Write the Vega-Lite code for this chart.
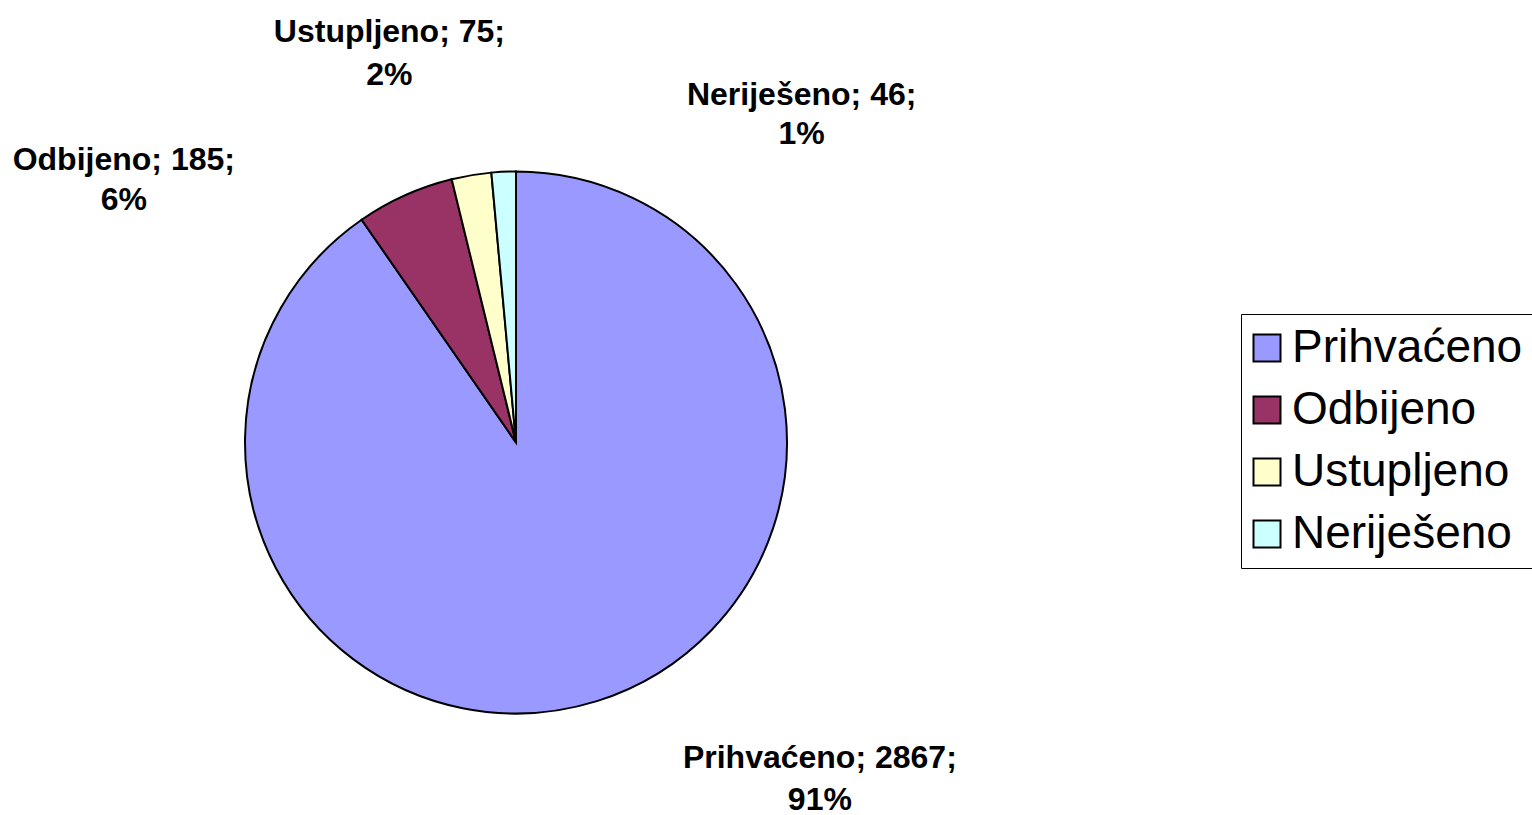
{
  "$schema": "https://vega.github.io/schema/vega-lite/v6.json",
  "width": 1032,
  "height": 745,
  "padding": {"top": 12, "left": 0, "right": 0, "bottom": 0},
  "autosize": {"type": "pad"},
  "background": "white",
  "config": {"view": {"stroke": null}, "font": "Liberation Sans"},
  "data": {
    "values": [
      {"kategorija": "Prihvaćeno", "broj": 2867, "postotak": "91%", "redoslijed": 1},
      {"kategorija": "Odbijeno", "broj": 185, "postotak": "6%", "redoslijed": 2},
      {"kategorija": "Ustupljeno", "broj": 75, "postotak": "2%", "redoslijed": 3},
      {"kategorija": "Neriješeno", "broj": 46, "postotak": "1%", "redoslijed": 4}
    ]
  },
  "encoding": {
    "theta": {"field": "broj", "type": "quantitative", "stack": true},
    "order": {"field": "redoslijed", "type": "quantitative"}
  },
  "layer": [
    {
      "mark": {"type": "arc", "outerRadius": 271, "stroke": "black", "strokeWidth": 2},
      "encoding": {
        "color": {
          "field": "kategorija",
          "type": "nominal",
          "sort": ["Prihvaćeno", "Odbijeno", "Ustupljeno", "Neriješeno"],
          "scale": {
            "domain": ["Prihvaćeno", "Odbijeno", "Ustupljeno", "Neriješeno"],
            "range": ["#9999FF", "#993366", "#FFFFCC", "#CCFFFF"]
          },
          "legend": {
            "title": null,
            "orient": "none",
            "legendX": 1241,
            "legendY": 244,
            "strokeColor": "black",
            "padding": 11,
            "symbolType": "square",
            "symbolSize": 729,
            "symbolOffset": -8,
            "symbolStrokeColor": "black",
            "symbolStrokeWidth": 2,
            "symbolOpacity": 1,
            "labelFont": "Liberation Sans",
            "labelFontSize": 46,
            "labelColor": "black",
            "labelOffset": 2,
            "labelLimit": 400,
            "rowPadding": 16
          }
        }
      }
    },
    {
      "mark": {"type": "text", "radius": 271, "dx": 223, "dy": 57, "font": "Liberation Sans", "fontWeight": "bold", "fontSize": 32, "lineHeight": 42, "baseline": "middle", "align": "center", "color": "black"},
      "encoding": {"text": {"condition": {"test": "datum.kategorija === 'Prihvaćeno'", "value": ["Prihvaćeno; 2867;", "91%"]}, "value": ""}}
    },
    {
      "mark": {"type": "text", "radius": 271, "dx": -281, "dy": -35, "font": "Liberation Sans", "fontWeight": "bold", "fontSize": 32, "lineHeight": 40, "baseline": "middle", "align": "center", "color": "black"},
      "encoding": {"text": {"condition": {"test": "datum.kategorija === 'Odbijeno'", "value": ["Odbijeno; 185;", "6%"]}, "value": ""}}
    },
    {
      "mark": {"type": "text", "radius": 271, "dx": -82, "dy": -143.5, "font": "Liberation Sans", "fontWeight": "bold", "fontSize": 32, "lineHeight": 43, "baseline": "middle", "align": "center", "color": "black"},
      "encoding": {"text": {"condition": {"test": "datum.kategorija === 'Ustupljeno'", "value": ["Ustupljeno; 75;", "2%"]}, "value": ""}}
    },
    {
      "mark": {"type": "text", "radius": 271, "dx": 298, "dy": -76.5, "font": "Liberation Sans", "fontWeight": "bold", "fontSize": 32, "lineHeight": 39, "baseline": "middle", "align": "center", "color": "black"},
      "encoding": {"text": {"condition": {"test": "datum.kategorija === 'Neriješeno'", "value": ["Neriješeno; 46;", "1%"]}, "value": ""}}
    }
  ]
}
